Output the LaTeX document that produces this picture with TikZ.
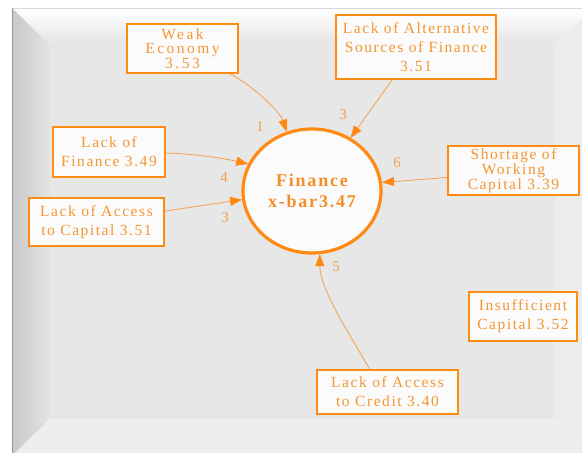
\documentclass[tikz,border=0pt]{standalone}
\usepackage{fontspec}
\setmainfont{Liberation Serif}
\newfontfamily\boxfont{Liberation Serif}[LetterSpace=10]
\newfontfamily\widefont{Liberation Serif}[LetterSpace=16]
\usetikzlibrary{shapes.geometric,arrows.meta}
\lineskiplimit=-100pt
\definecolor{boxline}{RGB}{255,138,20}
\definecolor{boxtext}{RGB}{244,150,50}
\definecolor{edgeline}{RGB}{246,160,74}
\definecolor{tipfill}{RGB}{255,136,16}
\definecolor{lbltext}{RGB}{238,160,80}
\definecolor{hubtext}{RGB}{243,142,40}
\definecolor{boxfill}{RGB}{251,251,251}
\definecolor{face}{RGB}{231,231,231}
\definecolor{bevtop}{RGB}{229,229,229}
\definecolor{bevleftA}{RGB}{200,200,200}
\definecolor{bevleftB}{RGB}{228,228,228}
\definecolor{bevright}{RGB}{236,236,236}
\definecolor{bevbottom}{RGB}{238,238,238}
\definecolor{rimdark}{RGB}{150,150,150}
\definecolor{rimlight}{RGB}{218,218,218}
\begin{document}
\begin{tikzpicture}[x=1pt,y=-1pt,
  factor/.style={draw=boxline, line width=2pt, fill=boxfill, text=boxtext,
    align=center, inner sep=0pt, font=\boxfont\fontsize{15.5}{19}\selectfont},
  hub/.style={ellipse, draw=boxline, line width=3.2pt, fill=boxfill, text=hubtext,
    align=center, inner sep=0pt, minimum width=138pt, minimum height=124pt,
    font=\boxfont\bfseries\fontsize{18}{21}\selectfont},
  link/.style={draw=edgeline, line width=0.8pt,
    -{Triangle[length=12pt,width=9pt,color=tipfill]}},
  weight/.style={text=lbltext, inner sep=0pt, font=\fontsize{15}{17}\selectfont}
]
\useasboundingbox (0,0) rectangle (582,453);

% bevelled panel behind the diagram
\begin{scope}
  \clip (0,0) rectangle (582,453);
  \fill[white] (0,0) rectangle (582,453);
  \fill[face] (50,45) rectangle (555,419);
  \shade[top color=white, bottom color=bevtop]
    (12,8) -- (593,8) -- (555,45) -- (50,45) -- cycle;
  \shade[left color=bevleftA, right color=bevleftB]
    (12,8) -- (50,45) -- (50,419) -- (12,456) -- cycle;
  \fill[bevright] (555,45) -- (593,8) -- (593,456) -- (555,419) -- cycle;
  \fill[bevbottom] (50,419) -- (555,419) -- (593,456) -- (12,456) -- cycle;
  \draw[rimlight, line width=1pt] (12,8) -- (593,8);
  \draw[rimdark, line width=1.2pt] (12.5,8) -- (12.5,456);
\end{scope}

% factors
\node[factor, minimum width=111pt, minimum height=49pt,
  font=\widefont\fontsize{15.5}{14.5}\selectfont] (we) at (182.5,48.5)
  {Weak\\Economy\\3.53};
\node[factor, minimum width=160pt, minimum height=64pt] (alt) at (416,47)
  {Lack of Alternative\\Sources of Finance\\3.51};
\node[factor, minimum width=112pt, minimum height=50pt] (lf) at (109,152)
  {Lack of\\Finance 3.49};
\node[factor, minimum width=135pt, minimum height=48pt] (lac) at (96.5,222)
  {Lack of Access\\to Capital 3.51};
\node[factor, minimum width=131pt, minimum height=49pt,
  font=\boxfont\fontsize{15.5}{15}\selectfont] (sw) at (513.5,170.5)
  {Shortage of\\Working\\Capital 3.39};
\node[factor, minimum width=108pt, minimum height=49pt] (ic) at (523,316.5)
  {Insufficient\\Capital 3.52};
\node[factor, minimum width=141pt, minimum height=44pt] (lacr) at (387.5,392)
  {Lack of Access\\to Credit 3.40};

% central construct
\node[hub] (fin) at (312,191) {Finance\\x-bar3.47};

% links into the construct
\draw[link] (we.-28) .. controls (256,88) and (280,112) .. (fin.113);
\draw[link] (alt.-126) -- (fin.54);
\draw[link] (lf.-1) .. controls (195,154) and (222,158) .. (fin.157);
\draw[link] (lac.9) -- (fin.187);
\draw[link] (sw.186) -- (fin.7.5);
\draw[link] (lacr.128) .. controls (352,338) and (320,290) .. (fin.-83);

% link weights
\node[weight] (w1) at (260,127) {1};
\node[weight] (w2) at (343,115) {3};
\node[weight] (w3) at (224,178) {4};
\node[weight] (w4) at (225,218) {3};
\node[weight] (w5) at (397,163) {6};
\node[weight] (w6) at (336,267) {5};
\end{tikzpicture}
\end{document}
